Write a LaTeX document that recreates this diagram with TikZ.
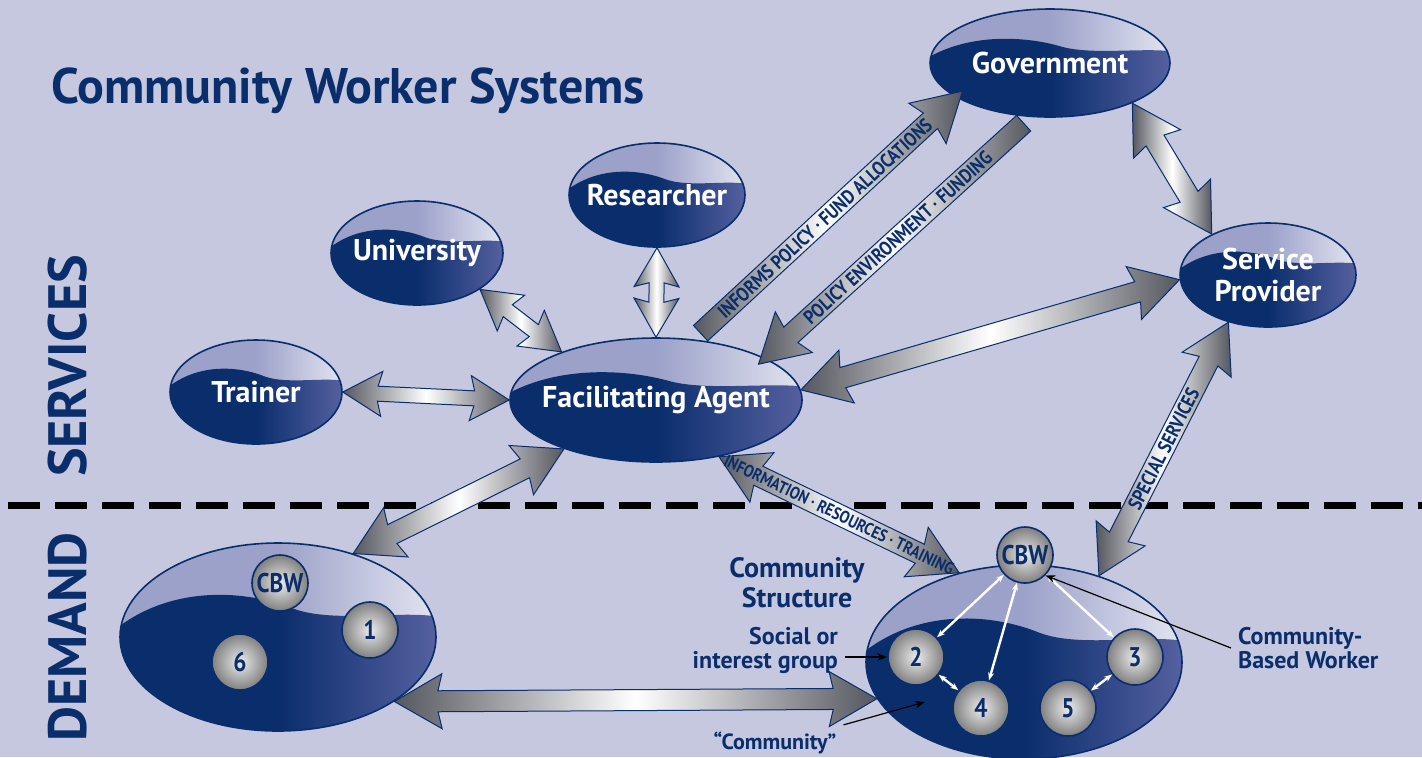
\documentclass[tikz,border=0pt]{standalone}
\usepackage{fontspec}
\setmainfont{PT Sans}
\newfontfamily\condensed{PT Sans}[FakeStretch=0.86]
\usetikzlibrary{shapes.geometric,shapes.arrows,calc,arrows.meta}

\definecolor{bgblue}{HTML}{C5C8DE}
\definecolor{navy}{HTML}{0A2D6C}
\definecolor{navyR}{HTML}{5560A0}
\definecolor{capL}{HTML}{9BA1C9}
\definecolor{capR}{HTML}{E2E4F0}
\definecolor{steel}{HTML}{55575F}

% fat shaded arrow between two border points, label laid along it
\newcommand{\fatlink}[4][fatarrow]{%
  \path let \p1=#2, \p2=#3,
    \n1={atan2(\y2-\y1,\x2-\x1)}, \n2={veclen(\x2-\x1,\y2-\y1)} in
    node[#1,rotate=\n1,minimum height=\n2] at ($(\p1)!0.5!(\p2)$) {}
    node[arrowtext,rotate=\n1] at ($(\p1)!0.5!(\p2)$) {#4};}

\begin{document}
\begin{tikzpicture}[x=0.5pt,y=-0.5pt,
  bubble/.style={ellipse,draw=navy,line width=0.8pt,inner sep=0pt,fill=navy,
    path picture={
      \begin{scope}[shift={(path picture bounding box.center)},
        x={($(path picture bounding box.east)-(path picture bounding box.center)$)},
        y={($(path picture bounding box.north)-(path picture bounding box.center)$)}]
        \shade[left color=capL,right color=capR,middle color=capL] (-1,-1) rectangle (1,1);
        \shade[left color=navy,right color=navyR,middle color=navy]
          (-1,0.12) .. controls (-0.65,0.55) and (-0.2,0.5) .. (0.1,0.3)
          .. controls (0.35,0.15) and (0.75,0.28) .. (1,0.22) -- (1,-1) -- (-1,-1) -- cycle;
      \end{scope}}},
  bubbletext/.style={text=white,align=center,font=\bfseries\fontsize{15}{16}\selectfont},
  ball/.style={circle,draw=navy,line width=0.8pt,inner sep=0pt,minimum size=28pt,
    inner color=gray!15,outer color=gray,text=navy,font=\condensed\bfseries\fontsize{13.5}{13.5}\selectfont},
  fatarrow/.style={double arrow,draw=navy,line width=0.5pt,inner xsep=0pt,inner ysep=5pt,
    text height=0pt,text depth=0pt,double arrow head extend=8.5pt,double arrow tip angle=60,
    double arrow head indent=2pt,left color=steel,right color=steel,middle color=white},
  thinarrow/.style={fatarrow,inner ysep=3.5pt,double arrow head extend=7.5pt},
  onearrow/.style={single arrow,draw=navy,line width=0.5pt,inner xsep=0pt,inner ysep=5pt,
    text height=0pt,text depth=0pt,single arrow head extend=8.5pt,single arrow tip angle=60,
    single arrow head indent=2pt,left color=steel,right color=steel,middle color=white},
  backarrow/.style={onearrow,shape border rotate=180},
  arrowtext/.style={text=navy,inner sep=0pt,font=\condensed\bfseries\fontsize{9.8}{10}\selectfont},
  sidetext/.style={text=navy,rotate=90,font=\bfseries\fontsize{27}{27}\selectfont},
  note/.style={text=navy,font=\bfseries\fontsize{12}{12}\selectfont},
  pointer/.style={-{Stealth[length=5pt]},line width=0.6pt,black},
  whitelink/.style={{Stealth[length=4pt]}-{Stealth[length=4pt]},line width=1.2pt,white},
  divider/.style={line width=3.5pt,dash pattern=on 16pt off 7.5pt}]

\useasboundingbox (0,0) rectangle (1422,757);
\fill[bgblue] (0,0) rectangle (1422,757);
\clip (0,0) rectangle (1422,757);

\node[text=navy,anchor=base west,font=\bfseries\fontsize{25}{25}\selectfont] (Title) at (44,103) {Community Worker Systems};
\node[sidetext] (Services) at (68,366) {SERVICES};
\node[sidetext] (Demand) at (68,637) {DEMAND};

\coordinate (DividerL) at (8,505);
\coordinate (DividerR) at (1422,505);
\draw[divider] (DividerL) -- (DividerR);

% services
\node[bubble,minimum width=120pt,minimum height=54pt,label={[bubbletext]center:Government}] (Government) at (1050,63) {};
\node[bubble,minimum width=88pt,minimum height=52pt,label={[bubbletext]center:{Service\\Provider}}] (Provider) at (1268,275) {};
\node[bubble,minimum width=88pt,minimum height=52pt,label={[bubbletext]center:Researcher}] (Researcher) at (657,195) {};
\node[bubble,minimum width=86pt,minimum height=52pt,label={[bubbletext]center:University}] (University) at (417,253) {};
\node[bubble,minimum width=86pt,minimum height=52pt,label={[bubbletext]center:Trainer}] (Trainer) at (256,392) {};
\node[bubble,minimum width=146pt,minimum height=62pt,label={[bubbletext]center:Facilitating Agent}] (Agent) at (656,400) {};

% demand
\node[bubble,minimum width=158pt,minimum height=94pt] (OtherCommunity) at (278,637) {};
\node[bubble,minimum width=158pt,minimum height=97pt] (Community) at (1024,662) {};

\node[ball] (OtherCBW) at (280,583) {CBW};
\node[ball] (Group1) at (370,630) {1};
\node[ball] (Group6) at (240,662) {6};

\node[ball] (CBW) at (1025,555) {CBW};
\node[ball] (Group2) at (916,657) {2};
\node[ball] (Group3) at (1135,657) {3};
\node[ball] (Group4) at (981,708) {4};
\node[ball] (Group5) at (1068,708) {5};

\draw[whitelink] (CBW) -- (Group2);
\draw[whitelink] (CBW) -- (Group4);
\draw[whitelink] (CBW) -- (Group3);
\draw[whitelink] (Group2) -- (Group4);
\draw[whitelink] (Group3) -- (Group5);

% fat arrows
\fatlink[thinarrow]{(Trainer.east)}{(Agent.west)}{}
\fatlink[thinarrow]{(University.-30)}{(Agent.153)}{}
\fatlink[thinarrow]{(Agent.north)}{(Researcher.south)}{}
\fatlink[onearrow]{(Agent.58)}{(Government.200)}{INFORMS POLICY · FUND ALLOCATIONS}
\fatlink[backarrow]{(Agent.21)}{(Government.250)}{POLICY ENVIRONMENT · FUNDING}
\fatlink{(Agent.4)}{(Provider.183)}{}
\fatlink{(Government.-26)}{(Provider.144)}{}
\fatlink{(OtherCommunity.48)}{(Agent.208)}{}
\fatlink{(Agent.-42)}{(Community.126)}{\fontsize{8.6}{9}\selectfont INFORMATION · RESOURCES · TRAINING}
\fatlink{(Community.49)}{(Provider.230)}{SPECIAL SERVICES}
\fatlink{(OtherCommunity.-29)}{(Community.194)}{}

% labels
\node[note,font=\bfseries\fontsize{14}{15}\selectfont,align=center] (StructureLabel) at (797,583) {Community\\Structure};
\node[note,align=right,anchor=east] (GroupLabel) at (845,650) {Social or\\interest group};
\node[note,align=left,anchor=west] (WorkerLabel) at (1231,648) {Community-\\Based Worker};
\node[note,font=\bfseries\fontsize{11}{12}\selectfont] (QuoteLabel) at (775,743) {“Community”};
\coordinate (CommunityInside) at (925,702);

\draw[pointer] (GroupLabel.east |- Group2) -- (Group2.west);
\draw[pointer] (WorkerLabel.west) -- (CBW.-45);
\draw[pointer] (QuoteLabel.north east) -- (CommunityInside);

\end{tikzpicture}
\end{document}
